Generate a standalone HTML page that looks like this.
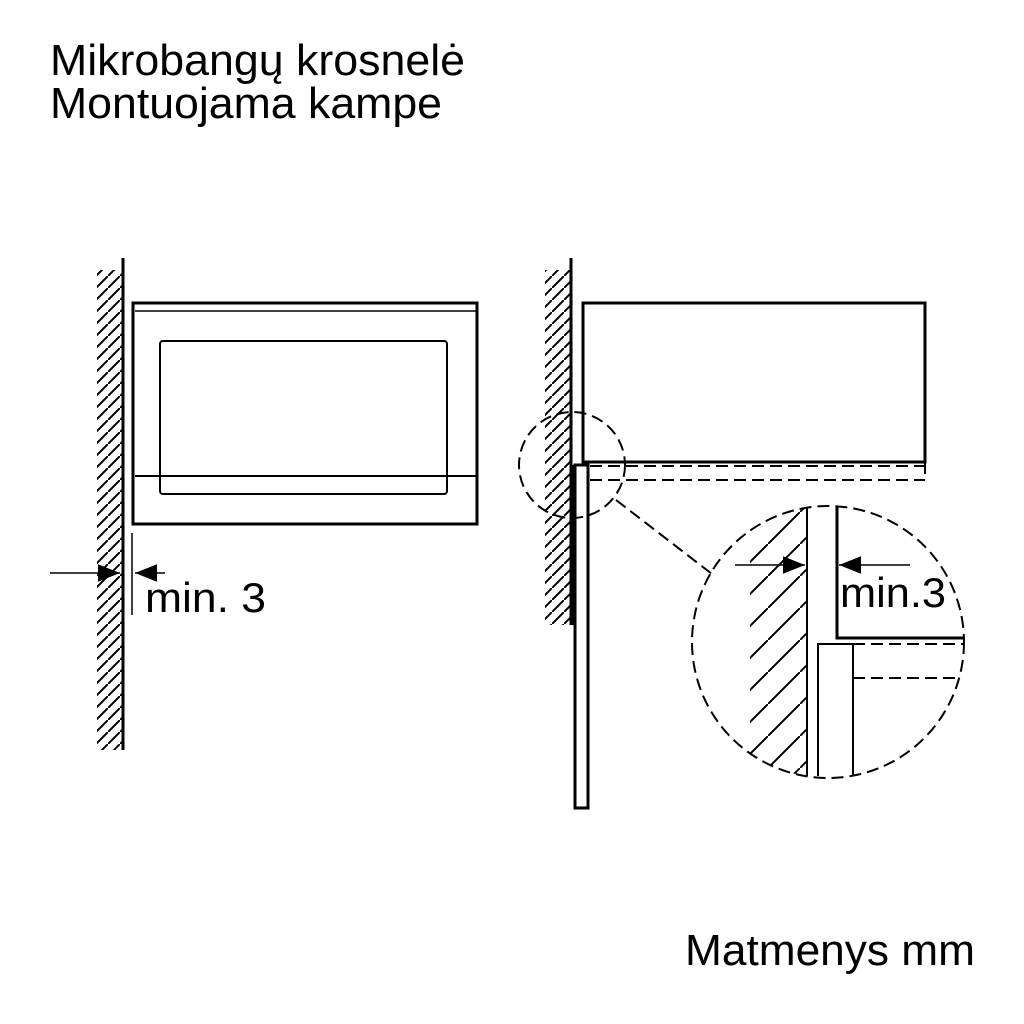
<!DOCTYPE html>
<html><head><meta charset="utf-8"><style>html,body{margin:0;padding:0;background:#fff}svg{display:block}</style></head>
<body>
<svg width="1024" height="1024" viewBox="0 0 1024 1024" xmlns="http://www.w3.org/2000/svg" font-family="Liberation Sans, sans-serif">
<defs>
<pattern id="h1" patternUnits="userSpaceOnUse" width="12" height="12"><line x1="-1" y1="13" x2="13" y2="-1" stroke="#000" stroke-width="2"/></pattern>
<pattern id="h2" patternUnits="userSpaceOnUse" width="32" height="32"><line x1="-2" y1="34" x2="34" y2="-2" stroke="#000" stroke-width="2"/></pattern>
<clipPath id="cc"><circle cx="828" cy="642" r="136"/></clipPath>
<marker id="ar" viewBox="0 0 10 10" refX="10" refY="5" markerWidth="22" markerHeight="22" markerUnits="userSpaceOnUse" orient="auto"><path d="M0,1 L10,5 L0,9z" fill="#000"/></marker>
</defs>
<text x="50" y="75" font-size="44" textLength="415" lengthAdjust="spacingAndGlyphs">Mikrobangų krosnelė</text>
<text x="50" y="118" font-size="44" textLength="392" lengthAdjust="spacingAndGlyphs">Montuojama kampe</text>
<text x="685" y="965" font-size="44" textLength="290" lengthAdjust="spacingAndGlyphs">Matmenys mm</text>

<!-- left view -->
<rect x="97" y="270" width="26" height="480" fill="url(#h1)"/>
<line x1="123" y1="258" x2="123" y2="750" stroke="#000" stroke-width="3"/>
<rect x="133" y="303" width="344" height="221" fill="none" stroke="#000" stroke-width="3"/>
<line x1="135" y1="311" x2="476" y2="311" stroke="#000" stroke-width="1.5"/>
<rect x="160" y="341" width="287" height="153" rx="3" fill="none" stroke="#000" stroke-width="2"/>
<line x1="135" y1="476" x2="476" y2="476" stroke="#000" stroke-width="2"/>
<line x1="132" y1="533" x2="132" y2="615" stroke="#000" stroke-width="1.5"/>
<line x1="50" y1="573" x2="120" y2="573" stroke="#000" stroke-width="1.5" marker-end="url(#ar)"/>
<line x1="165" y1="573" x2="135" y2="573" stroke="#000" stroke-width="1.5" marker-end="url(#ar)"/>
<text x="145" y="612" font-size="42" textLength="121" lengthAdjust="spacingAndGlyphs">min. 3</text>

<!-- right view -->
<rect x="545" y="270" width="26" height="355" fill="url(#h1)"/>
<line x1="571" y1="258" x2="571" y2="625" stroke="#000" stroke-width="3"/>
<rect x="570" y="465" width="5" height="160" fill="#000"/>
<rect x="575" y="465" width="13" height="343" fill="#fff" stroke="#000" stroke-width="3"/>
<rect x="583" y="303" width="342" height="159" fill="none" stroke="#000" stroke-width="3"/>
<g stroke="#000" stroke-width="2" stroke-dasharray="12,6" fill="none">
<line x1="590" y1="466" x2="925" y2="466"/>
<line x1="590" y1="480" x2="925" y2="480"/>
<line x1="925" y1="462" x2="925" y2="480"/>
<circle cx="572" cy="465" r="53"/>
<line x1="616" y1="500" x2="712" y2="574"/>
<circle cx="828" cy="642" r="136"/>
<line x1="853" y1="644" x2="964" y2="644"/>
<line x1="853" y1="678" x2="960" y2="678"/>
</g>
<g clip-path="url(#cc)">
<rect x="750" y="500" width="57" height="290" fill="url(#h2)"/>
</g>
<line x1="807" y1="507" x2="807" y2="776" stroke="#000" stroke-width="2"/>
<polyline points="818,776 818,644 853,644 853,776" fill="none" stroke="#000" stroke-width="2"/>
<polyline points="837,507 837,638 964,638" fill="none" stroke="#000" stroke-width="3"/>
<line x1="735" y1="565" x2="805" y2="565" stroke="#000" stroke-width="1.5" marker-end="url(#ar)"/>
<line x1="910" y1="565" x2="839" y2="565" stroke="#000" stroke-width="1.5" marker-end="url(#ar)"/>
<text x="840" y="607" font-size="42" textLength="106" lengthAdjust="spacingAndGlyphs">min.3</text>
</svg>
</body></html>
